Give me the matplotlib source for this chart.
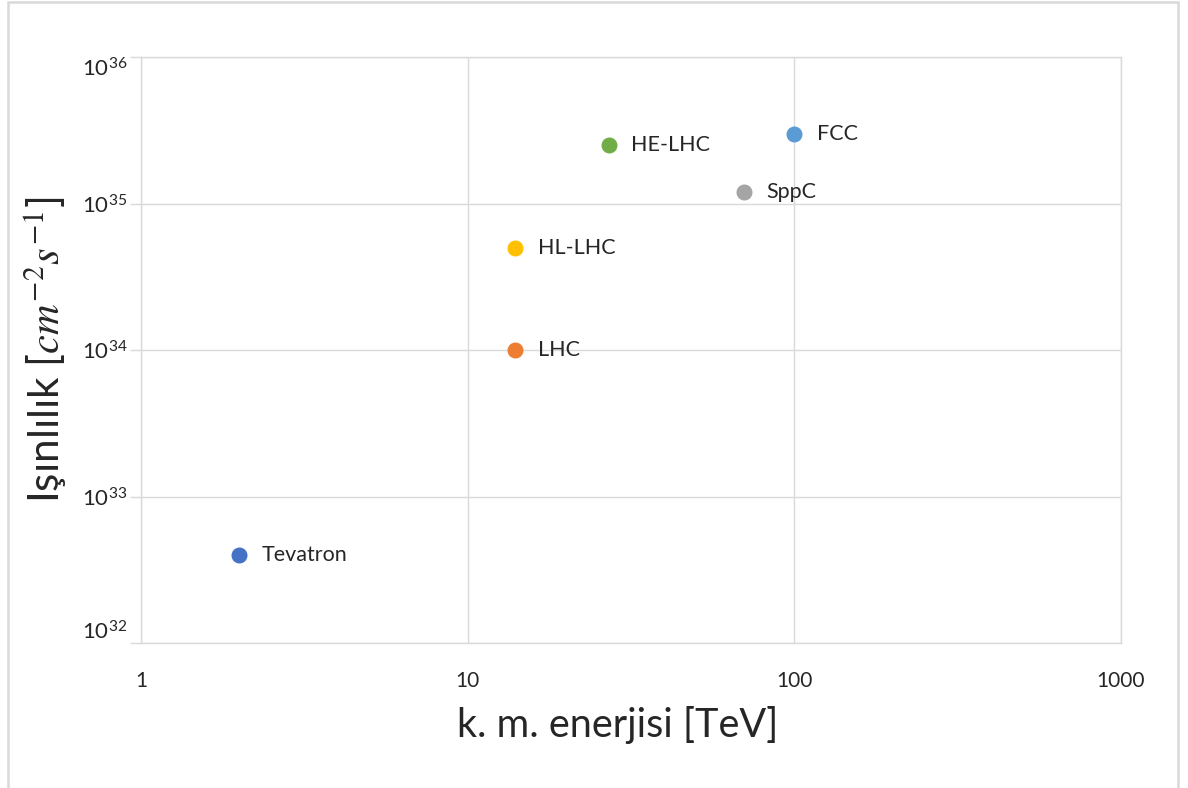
import math
import matplotlib
matplotlib.use("Agg")
import matplotlib.pyplot as plt
from matplotlib.ticker import FixedLocator, FuncFormatter, NullLocator
from matplotlib.patches import Rectangle

# Collider data: centre-of-mass energy [TeV] and peak luminosity [cm^-2 s^-1]
colliders = ["Tevatron", "LHC", "HL-LHC", "HE-LHC", "FCC", "SppC"]
energy_tev = [2, 14, 14, 27, 100, 70]
luminosity = [4e32, 1e34, 5e34, 2.5e35, 3e35, 1.2e35]
colors = ["#4472C4", "#ED7D31", "#FFC000", "#70AD47", "#5B9BD5", "#A5A5A5"]

x_ticks = [1, 10, 100, 1000]
x_tick_labels = ["1", "10", "100", "1000"]
y_ticks = [1e32, 1e33, 1e34, 1e35, 1e36]

plt.rcParams["font.family"] = ["Lato", "DejaVu Sans"]
plt.rcParams["mathtext.fontset"] = "stix"

W, H = 1188, 788
fig = plt.figure(figsize=(W / 100, H / 100), dpi=100)
fig.patch.set_facecolor("white")

# light frame around the chart area
fig.add_artist(Rectangle((8 / W, -0.05), (1178 - 8) / W, 1.05 - 2 / H,
                         transform=fig.transFigure, fill=False,
                         edgecolor="#D9D9D9", linewidth=1.8))

ax = fig.add_axes([141 / W, 1 - 643 / H, (1121 - 141) / W, (643 - 57) / H])
ax.set_xscale("log")
ax.set_yscale("log")
ax.set_xlim(1, 1000)
ax.set_ylim(1e32, 1e36)

grid_c = "#D9D9D9"
for s in ax.spines.values():
    s.set_color(grid_c)
    s.set_linewidth(1.0)

ax.xaxis.set_major_locator(FixedLocator(x_ticks))
ax.xaxis.set_minor_locator(NullLocator())
ax.set_xticklabels(x_tick_labels)
ax.yaxis.set_major_locator(FixedLocator(y_ticks))
ax.yaxis.set_minor_locator(NullLocator())
ax.yaxis.set_major_formatter(FuncFormatter(
    lambda v, p: r"$\mathregular{10^{%d}}$" % round(math.log10(v))))

ax.grid(True, which="major", color=grid_c, linewidth=1.0)
ax.tick_params(axis="x", length=0, pad=20, labelsize=15, labelcolor="#262626")
ax.tick_params(axis="y", length=8, width=1.0, color=grid_c, pad=2,
               labelsize=16, labelcolor="#262626")

fig.canvas.draw()
ylabels = ax.get_yticklabels()
ylabels[0].set_va("bottom")
ylabels[-1].set_va("top")

for name, e, lum, c in zip(colliders, energy_tev, luminosity, colors):
    ax.plot([e], [lum], "o", ms=10.5, color=c, mec=c, zorder=3, clip_on=False)
    ax.annotate(name, (e, lum), xytext=(16, 0), textcoords="offset points",
                va="center", ha="left", fontsize=15.5, color="#262626")

ax.set_xlabel("k. m. enerjisi [TeV]", fontsize=28.5, color="#262626")
ax.xaxis.set_label_coords(0.486, -0.108)
ax.set_ylabel(r"Işınlılık [$cm^{-2}s^{-1}$]", fontsize=30.5, color="#262626")
ax.yaxis.set_label_coords(-0.072, 0.5)

fig.savefig("out.png", dpi=100)
